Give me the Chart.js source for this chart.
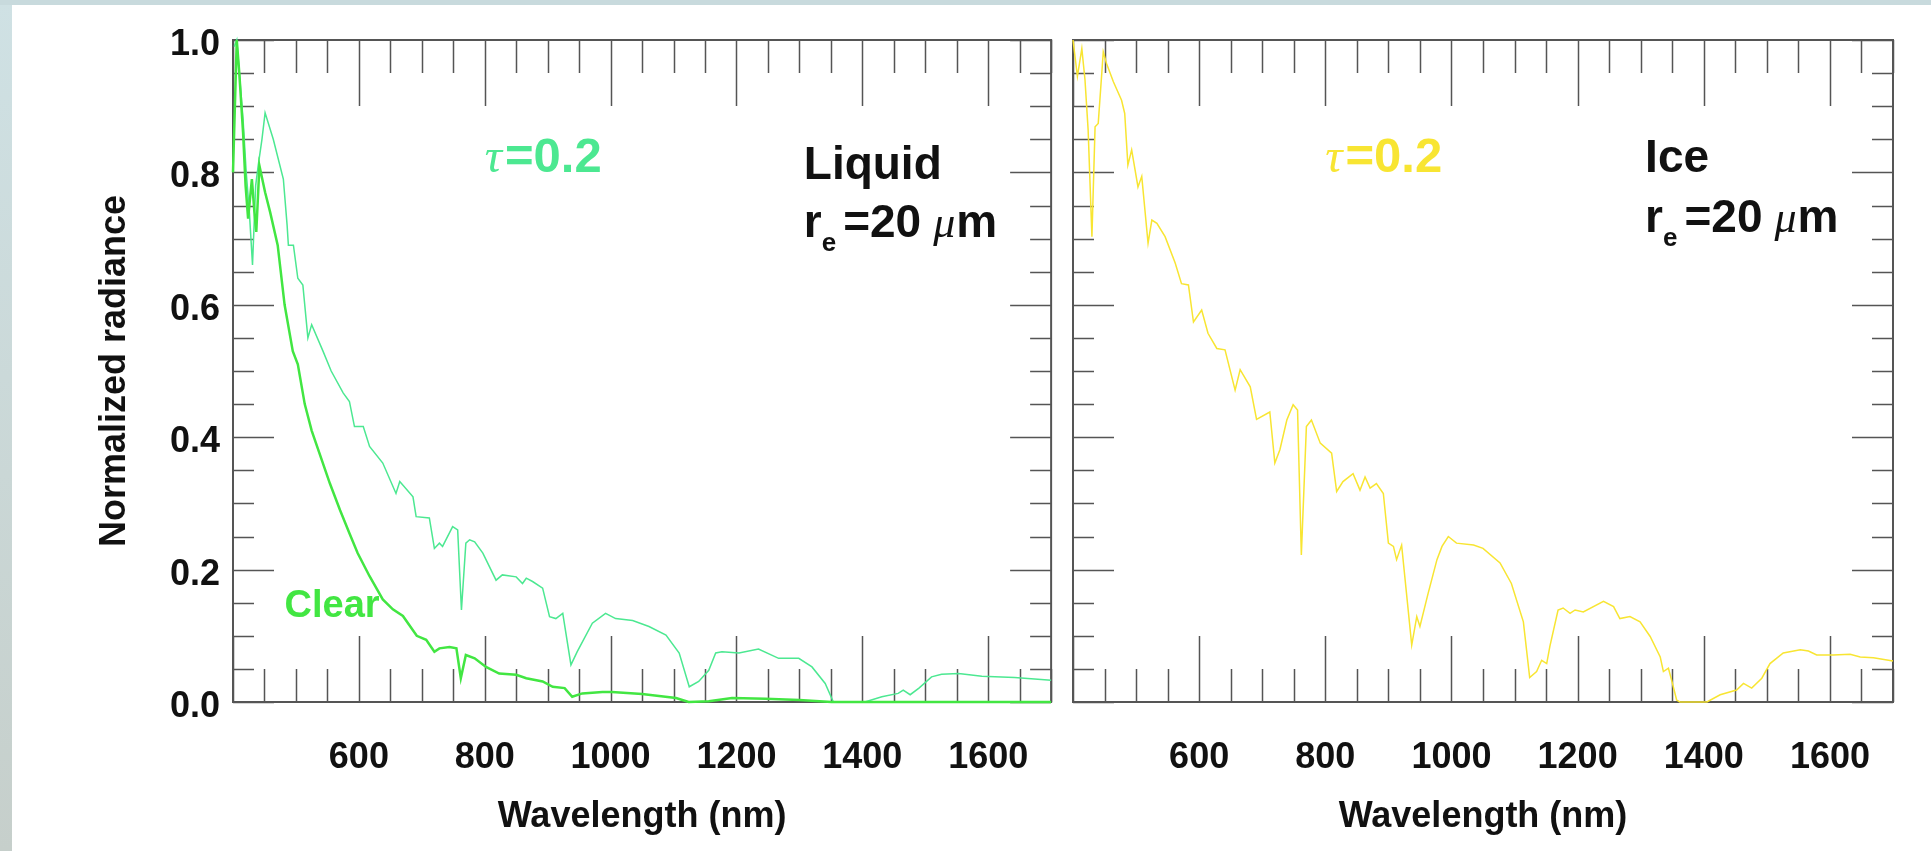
<!DOCTYPE html>
<html lang="en">
<head>
    <meta charset="UTF-8">
    <title>Normalized radiance - liquid and ice clouds</title>
    <script src="https://cdn.jsdelivr.net/npm/chart.js"></script>
    <style>
        body { margin: 0; background: #fff; }
        #wrap { position: relative; width: 1931px; height: 851px; overflow: hidden; background: #fff; }
        #edgeLeft { position: absolute; left: 0; top: 0; width: 12px; height: 851px; background: linear-gradient(#cfe1e4, #c6cfcb); }
        #edgeTop { position: absolute; left: 0; top: 0; width: 1931px; height: 5px; background: #c8dadd; }
        canvas { position: absolute; top: 0; }
    </style>
</head>
<body>
<div id="wrap">
    <div id="edgeLeft"></div>
    <div id="edgeTop"></div>
    <canvas id="liquidChart" width="1063" height="851" style="left:0"></canvas>
    <canvas id="iceChart" width="868" height="851" style="left:1063px"></canvas>
</div>

<script>
    // axis ticks
    const xTickValues = [600, 800, 1000, 1200, 1400, 1600];
    const yTickValues = [0, 0.2, 0.4, 0.6, 0.8, 1.0];

    // clear sky (left panel)
    const clearWl = [400, 406, 410, 416, 420, 424, 430, 434, 437, 442, 451, 459, 471, 482, 495, 503, 514, 525,
        554, 570, 585, 598, 617, 638, 654, 670, 692, 707, 720, 728, 744, 755, 762, 770, 784, 802, 823, 850,
        866, 892, 908, 927, 939, 955, 987, 1002, 1050, 1104, 1124, 1156, 1193, 1246, 1300, 1351, 1500, 1700];
    const clearRad = [0.80, 1.00, 0.95, 0.86, 0.78, 0.73, 0.79, 0.74, 0.71, 0.81, 0.77, 0.74, 0.69, 0.60, 0.53, 0.51, 0.45, 0.41,
        0.33, 0.29, 0.255, 0.225, 0.19, 0.155, 0.14, 0.13, 0.10, 0.094, 0.076, 0.081, 0.083, 0.081, 0.036, 0.071, 0.066, 0.053, 0.043, 0.041,
        0.036, 0.031, 0.023, 0.021, 0.008, 0.013, 0.015, 0.015, 0.012, 0.006, 0.0, 0.001, 0.006, 0.005, 0.003, 0.0, 0.0, 0.0];

    // liquid cloud, tau = 0.2
    const liquidWl = [402, 406, 411, 416, 421, 426, 431, 436, 440, 446, 451, 464, 480, 486, 488, 496, 503, 511, 519, 525,
        543, 556, 575, 585, 593, 607, 617, 638, 659, 665, 686, 691, 712, 720, 728, 733, 749, 757, 763, 770, 776, 784,
        797, 818, 828, 850, 860, 866, 876, 892, 903, 913, 924, 937, 947, 971, 992, 1008, 1035, 1061, 1088, 1109,
        1125, 1140, 1156, 1167, 1177, 1204, 1235, 1267, 1299, 1320, 1341, 1354, 1404, 1431, 1457, 1465, 1476, 1490,
        1510, 1526, 1553, 1590, 1642, 1700];
    const liquidRad = [0.99, 1.00, 0.94, 0.88, 0.80, 0.74, 0.66, 0.78, 0.81, 0.85, 0.89, 0.85, 0.79, 0.72, 0.69, 0.69, 0.64, 0.63, 0.55, 0.57,
        0.53, 0.50, 0.467, 0.454, 0.416, 0.416, 0.386, 0.361, 0.315, 0.333, 0.31, 0.28, 0.278, 0.232, 0.24, 0.235, 0.265, 0.26, 0.139, 0.24, 0.245, 0.242,
        0.225, 0.184, 0.192, 0.189, 0.179, 0.187, 0.182, 0.172, 0.129, 0.126, 0.134, 0.056, 0.076, 0.119, 0.134, 0.126, 0.123, 0.114, 0.101, 0.074,
        0.023, 0.031, 0.048, 0.074, 0.076, 0.074, 0.080, 0.066, 0.066, 0.053, 0.028, 0.0, 0.0, 0.008, 0.013, 0.018, 0.011, 0.021,
        0.038, 0.042, 0.043, 0.039, 0.037, 0.033];

    // ice cloud, tau = 0.2
    const iceWl = [400, 407, 414, 419, 424, 430, 435, 440, 448, 453, 464, 477, 482, 487, 493, 503, 509, 519, 525, 533,
        546, 562, 572, 583, 591, 604, 614, 628, 641, 657, 665, 681, 691, 712, 720, 728, 739, 749, 756, 762, 770, 778,
        792, 810, 818, 828, 844, 855, 863, 871, 881, 892, 900, 908, 913, 921, 937, 945, 950, 963, 977, 985, 995,
        1008, 1035, 1050, 1077, 1095, 1114, 1124, 1135, 1143, 1151, 1156, 1169, 1177, 1188, 1196, 1209, 1241, 1257,
        1267, 1283, 1299, 1315, 1331, 1336, 1344, 1349, 1357, 1362, 1405, 1426, 1452, 1463, 1476, 1492, 1505, 1526,
        1553, 1566, 1579, 1605, 1632, 1648, 1669, 1700];
    const iceRad = [1.0, 0.945, 0.987, 0.94, 0.864, 0.703, 0.869, 0.874, 0.982, 0.965, 0.937, 0.909, 0.889, 0.811, 0.834, 0.778, 0.794, 0.693, 0.728, 0.723,
        0.703, 0.663, 0.632, 0.630, 0.574, 0.592, 0.557, 0.534, 0.532, 0.471, 0.502, 0.476, 0.427, 0.438, 0.361, 0.381, 0.426, 0.449, 0.441, 0.222, 0.416, 0.426,
        0.391, 0.376, 0.318, 0.333, 0.345, 0.320, 0.340, 0.323, 0.330, 0.315, 0.240, 0.235, 0.215, 0.237, 0.086, 0.129, 0.114, 0.164, 0.215, 0.235, 0.250,
        0.240, 0.237, 0.232, 0.210, 0.179, 0.121, 0.037, 0.046, 0.063, 0.058, 0.084, 0.139, 0.142, 0.134, 0.139, 0.136, 0.152, 0.144,
        0.126, 0.129, 0.121, 0.099, 0.068, 0.046, 0.051, 0.033, 0.003, 0.0, 0.0, 0.011, 0.018, 0.028, 0.021, 0.036, 0.058, 0.074,
        0.079, 0.077, 0.071, 0.071, 0.072, 0.068, 0.067, 0.062];

    const SANS = '"Liberation Sans", Arial, Helvetica, sans-serif';
    const SERIF = '"Liberation Serif", "Times New Roman", serif';
    const GREEN = '#42e642';
    const SEA = '#4ce891';
    const YELLOW = '#f8e532';

    function toPoints(xs, ys) {
        return xs.map((v, i) => ({x: v, y: ys[i]}));
    }

    // IDL-style box: inward ticks on all four sides (under the curves), text notes on top
    const idlBox = {
        id: 'idlBox',
        beforeDatasetsDraw(chart) {
            const {ctx, chartArea: a, scales: {x, y}} = chart;
            ctx.save();
            ctx.strokeStyle = '#555';
            ctx.lineWidth = 1.5;
            ctx.beginPath();
            for (let v = 400; v <= 1700; v += 50) {
                const px = Math.round(x.getPixelForValue(v)) + 0.5;
                const len = v % 200 === 0 ? 66 : 33;
                ctx.moveTo(px, a.bottom); ctx.lineTo(px, a.bottom - len);
                ctx.moveTo(px, a.top); ctx.lineTo(px, a.top + len);
            }
            for (let i = 0; i <= 20; i++) {
                const py = Math.round(y.getPixelForValue(i * 0.05)) + 0.5;
                const len = i % 4 === 0 ? 41 : 21;
                ctx.moveTo(a.left, py); ctx.lineTo(a.left + len, py);
                ctx.moveTo(a.right, py); ctx.lineTo(a.right - len, py);
            }
            ctx.stroke();
            ctx.lineWidth = 2;
            ctx.strokeRect(a.left, a.top, a.width, a.height);
            ctx.restore();
        },
        afterDatasetsDraw(chart, args, opts) {
            const {ctx, scales: {x, y}} = chart;
            ctx.save();
            ctx.textBaseline = 'alphabetic';
            ctx.textAlign = 'left';
            (opts.notes || []).forEach(n => {
                let px = x.getPixelForValue(n.x);
                const py = y.getPixelForValue(n.y);
                ctx.fillStyle = n.color;
                n.runs.forEach(r => {
                    ctx.font = r.font;
                    ctx.fillText(r.t, px, py + (r.dy || 0));
                    px += ctx.measureText(r.t).width + (r.gap || 0);
                });
            });
            ctx.restore();
        }
    };

    const tauRuns = [
        {t: 'τ', font: 'italic 48px ' + SERIF, gap: 3},
        {t: '=0.2', font: 'bold 49px ' + SANS}
    ];
    const reRuns = [
        {t: 'r', font: 'bold 46px ' + SANS},
        {t: 'e', font: 'bold 26px ' + SANS, dy: 14, gap: 7},
        {t: '=20', font: 'bold 46px ' + SANS, gap: 12},
        {t: 'μ', font: 'italic 44px ' + SERIF, gap: 1},
        {t: 'm', font: 'bold 46px ' + SANS}
    ];

    function makePanel(id, datasets, showY, rightPad, yWidth, notes) {
        const ctx = document.getElementById(id).getContext('2d');
        return new Chart(ctx, {
            type: 'line',
            data: {datasets: datasets},
            options: {
                responsive: false,
                animation: false,
                devicePixelRatio: 1,
                layout: {padding: {left: 0, top: 40, right: rightPad, bottom: 0}},
                plugins: {
                    legend: {display: false},
                    tooltip: {enabled: false},
                    idlBox: {notes: notes}
                },
                elements: {point: {radius: 0}, line: {tension: 0}},
                scales: {
                    x: {
                        type: 'linear',
                        position: 'bottom',
                        min: 400,
                        max: 1700,
                        grid: {display: false, drawTicks: false},
                        border: {display: false},
                        afterBuildTicks: ax => { ax.ticks = xTickValues.map(v => ({value: v})); },
                        afterFit: s => { s.height = 149; },
                        ticks: {
                            autoSkip: false,
                            maxRotation: 0,
                            padding: 34,
                            color: '#111',
                            font: {family: SANS, size: 36, weight: 'bold'},
                            callback: v => String(v)
                        },
                        title: {
                            display: true,
                            text: 'Wavelength (nm)',
                            color: '#111',
                            font: {family: SANS, size: 36, weight: 'bold'},
                            padding: {top: 0, bottom: 12}
                        }
                    },
                    y: {
                        type: 'linear',
                        position: 'left',
                        min: 0,
                        max: 1,
                        grid: {display: false, drawTicks: false},
                        border: {display: false},
                        afterBuildTicks: ax => { ax.ticks = yTickValues.map(v => ({value: v})); },
                        afterFit: s => { s.width = yWidth; },
                        ticks: {
                            display: showY,
                            padding: 13,
                            labelOffset: 5,
                            color: '#111',
                            font: {family: SANS, size: 36, weight: 'bold'},
                            callback: v => v.toFixed(1)
                        },
                        title: {
                            display: showY,
                            text: 'Normalized radiance',
                            color: '#111',
                            font: {family: SANS, size: 36, weight: 'bold'},
                            padding: {top: 93, bottom: 0}
                        }
                    }
                }
            },
            plugins: [idlBox]
        });
    }

    makePanel('liquidChart', [
        {label: 'Clear', data: toPoints(clearWl, clearRad), borderColor: GREEN, borderWidth: 2.5, clip: 4},
        {label: 'tau=0.2', data: toPoints(liquidWl, liquidRad), borderColor: SEA, borderWidth: 1.5, clip: 4}
    ], true, 10, 233, [
        {x: 800, y: 0.80, color: SEA, runs: tauRuns},
        {x: 1307, y: 0.79, color: '#111', runs: [{t: 'Liquid', font: 'bold 46px ' + SANS}]},
        {x: 1307, y: 0.702, color: '#111', runs: reRuns},
        {x: 482, y: 0.128, color: GREEN, runs: [{t: 'Clear', font: 'bold 38px ' + SANS}]}
    ]);

    makePanel('iceChart', [
        {label: 'tau=0.2', data: toPoints(iceWl, iceRad), borderColor: YELLOW, borderWidth: 1.5, clip: 4}
    ], false, 38, 10, [
        {x: 800, y: 0.80, color: YELLOW, runs: tauRuns},
        {x: 1307, y: 0.80, color: '#111', runs: [{t: 'Ice', font: 'bold 46px ' + SANS}]},
        {x: 1307, y: 0.71, color: '#111', runs: reRuns}
    ]);
</script>
</body>
</html>
